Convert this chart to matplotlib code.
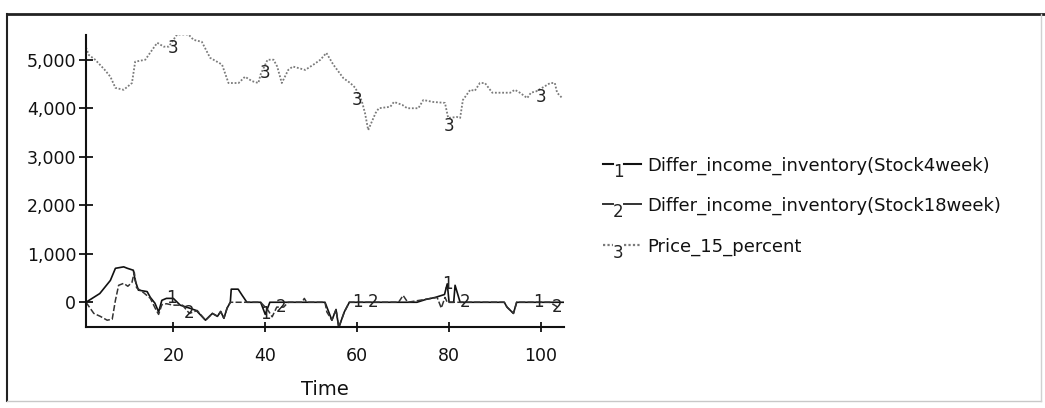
import matplotlib
matplotlib.use("Agg")
import matplotlib.pyplot as plt
from matplotlib.lines import Line2D
import numpy as np

plt.rcParams['font.family'] = ['DejaVu Sans']

# Differ_income_inventory(Stock4week)
t1 = [1, 2, 4, 6.3, 7.4, 9.2, 10, 11.3, 11.7, 12.4, 14.3, 15, 16, 16.8, 17.5, 18.5, 20,
      21.5, 23.5, 25, 27, 28.5, 29.6, 30.3, 31, 31.7, 32.4, 32.6, 34.1, 35, 36, 39, 40,
      41, 47, 53, 54.5, 55.4, 56, 57.2, 58.3, 73, 75, 77, 79, 79.6, 80, 81, 81.3, 82.4,
      92, 92.6, 94, 94.7, 105]
s1 = [0, 60, 180, 450, 700, 730, 700, 660, 450, 250, 220, 100, -20, -200, 40, 80, 80,
      -60, -120, -170, -370, -230, -290, -190, -330, -120, 0, 270, 270, 140, 0, 0, -250,
      0, 0, 0, -370, -150, -520, -200, 0, 0, 60, 100, 160, 380, 0, 0, 350, 0,
      0, -100, -230, 0, 0]

# Differ_income_inventory(Stock18week)
t2 = [1, 2.7, 4.1, 5.6, 6.7, 7.4, 8.1, 9.2, 10.1, 11, 11.5, 12, 13.5, 15, 16.2, 16.8,
      17.5, 18.5, 20, 22, 23.5, 25.2, 27, 28.5, 29.6, 30.3, 31, 31.7, 32.4, 36, 39, 40.5,
      41.5, 42.5, 44, 45, 48, 48.5, 49, 53, 53.4, 54.5, 55.4, 56, 57.2, 58.3, 69, 70, 71,
      77.4, 78.3, 79.1, 79.6, 84, 92, 92.6, 94, 94.7, 101.9, 104]
s2 = [0, -230, -290, -370, -350, 40, 350, 390, 330, 410, 620, 300, 200, 80, -150, -250,
      -50, -30, -60, -60, -230, -170, -370, -230, -290, -190, -330, -120, 0, 0, 0, -150,
      -300, -100, -100, 0, 0, 80, 0, 0, -200, -370, -150, -520, -200, 0, 0, 140, 0,
      100, -120, 100, 0, 0, 0, -100, -230, 0, 0, -120]

# Price_15_percent
t3 = [1, 1.6, 3, 5, 6.3, 7.4, 9.2, 11, 11.7, 13.9, 15, 16.5, 17.9, 19, 20.8, 23.3, 24.4,
      26.2, 28, 30.6, 32, 34.2, 35.6, 37.1, 38.5, 39, 40.5, 41.8, 42.6, 43.6, 45, 46,
      48.7, 50.5, 52, 53.3, 54.8, 57, 58.5, 59.6, 61, 61.7, 62.4, 64, 64.7, 67.2, 68,
      69.8, 70.9, 73.3, 74.4, 76.5, 79.1, 79.8, 81.7, 82.4, 83, 84.6, 85.6, 86.7, 87.8,
      89.4, 93.3, 94.3, 95.4, 97, 97.8, 99, 102, 103, 103.5, 104.6]
s3 = [5250, 5100, 5000, 4800, 4650, 4420, 4380, 4520, 4960, 5000, 5150, 5350, 5270, 5270,
      5520, 5520, 5410, 5370, 5040, 4900, 4520, 4520, 4650, 4560, 4520, 4700, 5000, 5000,
      4860, 4520, 4790, 4860, 4790, 4900, 5000, 5140, 4900, 4620, 4520, 4420, 4150, 3900,
      3550, 3900, 4000, 4030, 4130, 4070, 4000, 4000, 4170, 4130, 4110, 3800, 3820, 3800,
      4170, 4380, 4360, 4520, 4520, 4320, 4320, 4380, 4320, 4210, 4320, 4350, 4520, 4520,
      4320, 4210]

names = ["Differ_income_inventory(Stock4week)",
         "Differ_income_inventory(Stock18week)",
         "Price_15_percent"]
label_times = [[19.5, 40, 60, 79.6, 99.5],
               [23.5, 43.5, 63.5, 83.5, 103.5],
               [20, 40, 60, 80, 100]]
label_shift = [0, 0, -6]
yticks = [0, 1000, 2000, 3000, 4000, 5000]
xticks = [20, 40, 60, 80, 100]

styles = [dict(color="#111111", lw=1.2, ls="-"),
          dict(color="#333333", lw=1.1, ls=(0, (4, 1.5))),
          dict(color="#7a7a7a", lw=1.3, ls=(0, (1, 1)))]

W, H = 1045, 408
fig = plt.figure(figsize=(W / 100, H / 100), dpi=100)
ax = fig.add_axes([86 / W, 81 / H, 478 / W, 292 / H])

series = [(t1, s1), (t2, s2), (t3, s3)]
for i, (tt, ss) in enumerate(series):
    ax.plot(tt, ss, **styles[i])
    for lt in label_times[i]:
        v = np.interp(lt, tt, ss)
        ax.annotate(str(i + 1), (lt, v), xytext=(0, label_shift[i]),
                    textcoords="offset points", ha="center", va="center",
                    fontsize=12, color="#222222")

ax.set_xlim(1, 105)
ax.set_ylim(-510, 5510)
ax.set_xticks(xticks)
ax.set_yticks(yticks)
ax.set_yticklabels([f"{v:,}" for v in yticks])
ax.spines["top"].set_visible(False)
ax.spines["right"].set_visible(False)
for s in ("left", "bottom"):
    ax.spines[s].set_linewidth(1.5)
    ax.spines[s].set_color("#111111")
ax.tick_params(axis="y", direction="inout", length=10, width=1.3, pad=2,
               labelsize=12.5, colors="#111111")
ax.tick_params(axis="x", direction="inout", length=7, width=1.3, pad=11,
               labelsize=12.5, colors="#111111")
ax.set_xlabel("Time", fontsize=14, color="#111111")
ax.xaxis.set_label_coords(0.5, -0.18)
ax.xaxis.label.set_va("top")


def fx(px):
    return px / W


def fy(py):
    return 1 - py / H


# legend drawn by hand: dash, numeral, dash, then the name
for i, row in enumerate([166, 206, 247]):
    st = styles[i]
    ls = "-" if i < 2 else st["ls"]
    for x0, x1 in [(603, 613), (624, 641)]:
        fig.add_artist(Line2D([fx(x0), fx(x1)], [fy(row - 2), fy(row - 2)],
                              color=st["color"], lw=st["lw"] + 0.3, ls=ls))
    fig.text(fx(618), fy(row + 6), str(i + 1), ha="center", va="center",
             fontsize=12, color="#222222")
    fig.text(fx(647), fy(row), names[i], ha="left", va="center",
             fontsize=13, color="#111111")

# frame around the whole chart
fig.add_artist(Line2D([fx(7), fx(1045)], [fy(14), fy(14)], color="#222222", lw=2))
fig.add_artist(Line2D([fx(7), fx(7)], [fy(14), fy(401)], color="#222222", lw=1.5))
fig.add_artist(Line2D([fx(7), fx(1041)], [fy(401), fy(401)], color="#c8c8c8", lw=1))
fig.add_artist(Line2D([fx(1041), fx(1041)], [fy(14), fy(401)], color="#d0d0d0", lw=1))

fig.savefig("out.png", dpi=100)
